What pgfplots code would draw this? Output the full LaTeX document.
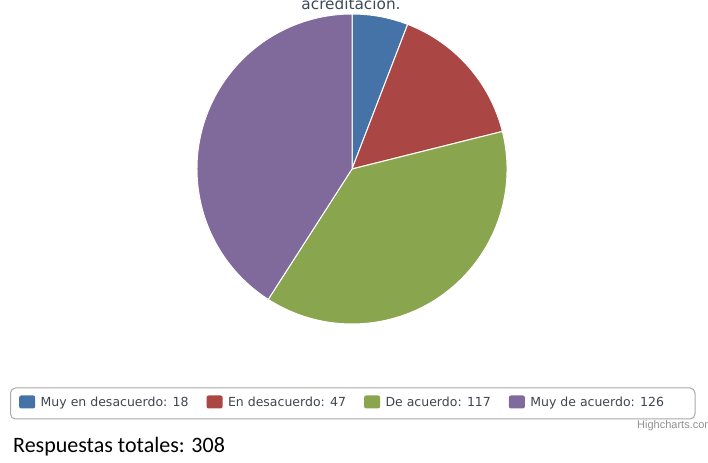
\documentclass[border=0pt]{standalone}
\usepackage{pgfplots}
\pgfplotsset{compat=1.18}
\usepackage{fontspec}
\setmainfont{DejaVu Sans}
\newfontfamily\calibri{Carlito}
\newfontfamily\arialish{Liberation Sans}
\definecolor{hcblue}{HTML}{4572A7}
\definecolor{hcred}{HTML}{AA4643}
\definecolor{hcgreen}{HTML}{89A54E}
\definecolor{hcpurple}{HTML}{80699B}
\definecolor{legtext}{HTML}{3E4650}
\definecolor{titletext}{HTML}{3E4A58}
\definecolor{boxgray}{HTML}{A8A8A8}
\definecolor{creditgray}{HTML}{909090}
\def\piedata{18/hcblue,47/hcred,117/hcgreen,126/hcpurple}
\begin{document}
\begin{tikzpicture}
\begin{axis}[
  width=708bp, height=463bp, scale only axis,
  xmin=0, xmax=708, ymin=0, ymax=463,
  enlargelimits=false, hide axis, clip=false,
  legend columns=4,
  legend cell align=left,
  legend style={at={(axis cs:19,61)}, anchor=west, draw=none, fill=none,
    inner sep=0pt, font=\fontsize{12.5bp}{15bp}\selectfont, text=legtext,
    nodes={inner xsep=2.5bp, inner ysep=1bp},
    /tikz/every odd column/.append style={column sep=3bp},
    /tikz/every even column/.append style={column sep=15.5bp}},
  legend image code/.code={\fill[#1, rounded corners=2bp] (0bp,-6.5bp) rectangle (16bp,6.5bp);},
]
\pgfplotsextra{%
  \gdef\pietotal{0}%
  \foreach \v/\c in \piedata {\pgfmathsetmacro\tmp{\pietotal+\v}\xdef\pietotal{\tmp}}%
  \gdef\piecum{0}%
  \foreach \v/\c in \piedata {%
    \pgfmathsetmacro\pa{90-360*(\piecum/\pietotal)}%
    \pgfmathsetmacro\pcn{\piecum+\v}%
    \pgfmathsetmacro\pb{90-360*(\pcn/\pietotal)}%
    \fill[\c, draw=white, line width=1bp, line join=round]
      (axis cs:352,294) -- ++(\pa:155bp) arc[start angle=\pa, end angle=\pb, radius=155bp] -- cycle;%
    \xdef\piecum{\pcn}%
  }%
}
\addlegendimage{fill=hcblue, draw=none}
\addlegendentry{Muy en desacuerdo: 18}
\addlegendimage{fill=hcred, draw=none}
\addlegendentry{En desacuerdo: 47}
\addlegendimage{fill=hcgreen, draw=none}
\addlegendentry{De acuerdo: 117}
\addlegendimage{fill=hcpurple, draw=none}
\addlegendentry{Muy de acuerdo: 126}
\draw[boxgray, line width=1bp, rounded corners=5bp] (axis cs:10.5,44) rectangle (axis cs:695,75);
\node[anchor=base, inner sep=0pt, font=\fontsize{15.3bp}{18bp}\selectfont, text=titletext] at (axis cs:351,453.5) {acreditación.};
\node[anchor=base west, inner sep=0pt, font=\arialish\fontsize{11bp}{13bp}\selectfont, text=creditgray] at (axis cs:637,34) {Highcharts.com};
\node[anchor=base west, inner sep=0pt, font=\calibri\fontsize{22bp}{26bp}\selectfont] at (axis cs:13,11) {Respuestas totales: 308};
\end{axis}
\pgfresetboundingbox
\useasboundingbox (0,0) rectangle (708bp,463bp);
\end{tikzpicture}
\end{document}
